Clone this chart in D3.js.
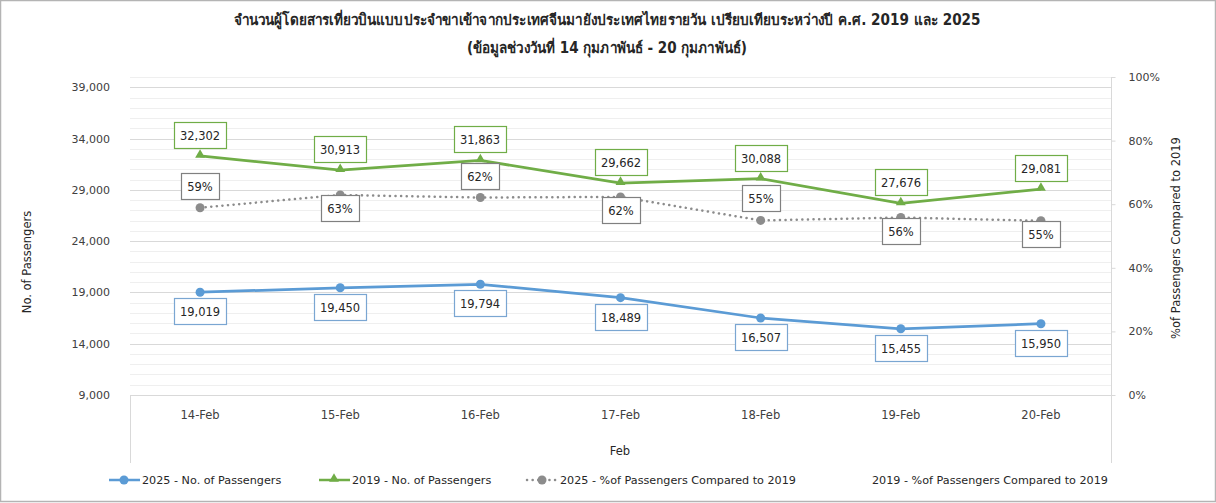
<!DOCTYPE html>
<html>
<head>
<meta charset="utf-8">
<script src="https://cdn.jsdelivr.net/npm/d3@7"></script>
<style>
body { margin: 0; background: #fff; }
svg { display: block; }
text { font-family: "DejaVu Sans", Tahoma, sans-serif; fill: #262626; }
</style>
</head>
<body>
<script>
var days = ["14-Feb", "15-Feb", "16-Feb", "17-Feb", "18-Feb", "19-Feb", "20-Feb"];
var pax2025 = [19019, 19450, 19794, 18489, 16507, 15455, 15950];
var pax2019 = [32302, 30913, 31863, 29662, 30088, 27676, 29081];
var pct2025 = [0.589, 0.629, 0.621, 0.623, 0.549, 0.558, 0.548];
var pctLabelSide = ["up", "down", "up", "down", "up", "down", "down"];
var leftTicks = [9000, 14000, 19000, 24000, 29000, 34000, 39000];
var rightTicks = [0, 0.2, 0.4, 0.6, 0.8, 1];
var titleLines = ["จำนวนผู้โดยสารเที่ยวบินแบบประจำขาเข้าจากประเทศจีนมายังประเทศไทยรายวัน  เปรียบเทียบระหว่างปี ค.ศ. 2019 และ 2025",
                  "(ข้อมูลช่วงวันที่ 14 กุมภาพันธ์ - 20 กุมภาพันธ์)"];
var legendNames = ["2025 - No. of Passengers", "2019 - No. of Passengers",
                   "2025 - %of Passengers Compared to 2019", "2019 - %of Passengers Compared to 2019"];

var width = 1216, height = 503;
var plotLeft = 130, plotRight = 1111, plotTop = 77, plotBottom = 395;
var blue = "#5b9bd5", green = "#70ad47", gray = "#8c8c8c";

var svg = d3.select("body").append("svg")
    .attr("width", width)
    .attr("height", height);

// frame round the picture
svg.append("rect")
    .attr("x", 0.5).attr("y", 0.5)
    .attr("width", width - 1).attr("height", height - 2)
    .attr("fill", "none").attr("stroke", "#b4b4b4").attr("stroke-width", 1.5);

var xScale = d3.scaleBand().domain(days).range([plotLeft, plotRight]);
var yScale = d3.scaleLinear().domain([9000, 40000]).range([plotBottom, plotTop]);
var pScale = d3.scaleLinear().domain([0, 1]).range([plotBottom, plotTop]);
function cx(d, i) { return xScale(days[i]) + xScale.bandwidth() / 2; }

// titles
var titleWidths = [747, 280];
svg.selectAll("text.title").data(titleLines).enter().append("text")
    .attr("class", "title")
    .attr("x", 607).attr("y", function(d, i) { return 25 + i * 28; })
    .attr("text-anchor", "middle")
    .attr("textLength", function(d, i) { return titleWidths[i]; })
    .attr("lengthAdjust", "spacingAndGlyphs")
    .style("font-size", "15px").style("font-weight", "bold")
    .text(function(d) { return d; });

// gridlines, minor every 1000, major at the ticks
var minor = d3.range(9000, 40001, 1000);
svg.append("g").selectAll("line").data(minor).enter().append("line")
    .attr("x1", plotLeft).attr("x2", plotRight)
    .attr("y1", function(d) { return Math.round(yScale(d)) + 0.5; })
    .attr("y2", function(d) { return Math.round(yScale(d)) + 0.5; })
    .attr("stroke", function(d) { return leftTicks.indexOf(d) >= 0 ? "#d9d9d9" : "#efefef"; });

// frame lines under the plot
svg.append("line").attr("x1", plotLeft).attr("x2", plotRight).attr("y1", plotBottom + 0.5).attr("y2", plotBottom + 0.5).attr("stroke", "#d9d9d9");
svg.append("line").attr("x1", plotLeft + 0.5).attr("x2", plotLeft + 0.5).attr("y1", plotBottom).attr("y2", 463).attr("stroke", "#d9d9d9");
svg.append("line").attr("x1", plotRight + 0.5).attr("x2", plotRight + 0.5).attr("y1", plotTop).attr("y2", 463).attr("stroke", "#d9d9d9");

// left axis
var yAxis = d3.axisLeft(yScale).tickValues(leftTicks).tickSize(0).tickPadding(20).tickFormat(d3.format(","));
var gy = svg.append("g").attr("transform", "translate(" + plotLeft + ",0)").call(yAxis);
gy.select(".domain").remove();
gy.selectAll("text").style("font-size", "11px").style("fill", "#404040").style("font-family", "DejaVu Sans");

// right axis
var pAxis = d3.axisRight(pScale).tickValues(rightTicks).tickSize(4).tickPadding(13).tickFormat(d3.format(".0%"));
var gp = svg.append("g").attr("transform", "translate(" + (plotRight + 0.5) + ",0)").call(pAxis);
gp.select(".domain").remove();
gp.selectAll("line").attr("stroke", "#d9d9d9");
gp.selectAll("text").style("font-size", "11px").style("fill", "#404040").style("font-family", "DejaVu Sans");

// category axis
var xAxis = d3.axisBottom(xScale).tickSize(0).tickPadding(16);
var gx = svg.append("g").attr("transform", "translate(0," + plotBottom + ")").call(xAxis);
gx.select(".domain").remove();
gx.selectAll("text").style("font-size", "11.5px").style("fill", "#404040").style("font-family", "DejaVu Sans");

// axis titles
svg.append("text").attr("x", 620).attr("y", 455).attr("text-anchor", "middle")
    .style("font-size", "11.5px").text("Feb");
svg.append("text").attr("transform", "translate(31,262) rotate(-90)").attr("text-anchor", "middle")
    .style("font-size", "11.5px").text("No. of Passengers");
svg.append("text").attr("transform", "translate(1180,238) rotate(-90)").attr("text-anchor", "middle")
    .style("font-size", "11.5px").text("%of Passengers Compared to 2019");

// lines
var paxLine = d3.line().x(cx).y(function(d) { return yScale(d); });
var pctLine = d3.line().x(cx).y(function(d) { return pScale(d); });

svg.append("path").attr("d", pctLine(pct2025))
    .attr("fill", "none").attr("stroke", gray).attr("stroke-width", 2.5)
    .attr("stroke-linecap", "round").attr("stroke-dasharray", "0.1 5.5");
svg.append("path").attr("d", paxLine(pax2019))
    .attr("fill", "none").attr("stroke", green).attr("stroke-width", 2.75);
svg.append("path").attr("d", paxLine(pax2025))
    .attr("fill", "none").attr("stroke", blue).attr("stroke-width", 2.75);

// markers
svg.append("g").selectAll("circle").data(pct2025).enter().append("circle")
    .attr("cx", cx).attr("cy", function(d) { return pScale(d); })
    .attr("r", 4.5).attr("fill", gray);
svg.append("g").selectAll("circle").data(pax2025).enter().append("circle")
    .attr("cx", cx).attr("cy", function(d) { return yScale(d); })
    .attr("r", 4.5).attr("fill", blue);
var tri = d3.symbol().type(d3.symbolTriangle).size(42);
svg.append("g").selectAll("path").data(pax2019).enter().append("path")
    .attr("d", tri)
    .attr("transform", function(d, i) { return "translate(" + cx(d, i) + "," + (yScale(d) - 1) + ")"; })
    .attr("fill", green);

// data labels in boxes
function labels(values, yOf, fmt, colour, offsetOf) {
    var g = svg.append("g").selectAll("g").data(values).enter().append("g")
        .attr("transform", function(d, i) { return "translate(" + Math.round(cx(d, i)) + "," + Math.round(yOf(d) + offsetOf(d, i)) + ")"; });
    g.append("text")
        .attr("text-anchor", "middle").attr("dy", "0.35em")
        .style("font-size", "11.5px").style("fill", "#262626")
        .text(fmt);
    g.each(function() {
        var t = d3.select(this).select("text").node().getBBox();
        d3.select(this).insert("rect", "text")
            .attr("x", Math.round(t.x - 6) + 0.5).attr("y", -13.5)
            .attr("width", Math.round(t.width + 12)).attr("height", 26)
            .attr("fill", "#fff").attr("stroke", colour).attr("stroke-width", 1.2);
    });
}

labels(pax2019, yScale, d3.format(","), green, function() { return -20; });
labels(pax2025, yScale, d3.format(","), "#7aa6d2", function() { return 20; });
labels(pct2025, pScale, d3.format(".0%"), "#808080", function(d, i) { return pctLabelSide[i] == "up" ? -21 : 14; });

// legend
var legend = svg.append("g").attr("transform", "translate(0,480)");
var legendX = [109, 319, 527, 839];
var legendKind = ["circle", "triangle", "dots", "none"];
var legendColour = [blue, green, gray, "none"];
legendNames.forEach(function(name, i) {
    var x = legendX[i], kind = legendKind[i];
    if (kind != "none") {
        legend.append("line").attr("x1", x).attr("x2", x + 31).attr("y1", 0).attr("y2", 0)
            .attr("stroke", legendColour[i]).attr("stroke-width", 2.5)
            .attr("stroke-linecap", kind == "dots" ? "round" : "butt")
            .attr("stroke-dasharray", kind == "dots" ? "0.1 5.5" : null);
        if (kind == "triangle") {
            legend.append("path").attr("d", tri).attr("transform", "translate(" + (x + 15) + ",-1)").attr("fill", legendColour[i]);
        } else {
            legend.append("circle").attr("cx", x + 15).attr("cy", 0).attr("r", 4.5).attr("fill", legendColour[i]);
        }
    }
    legend.append("text").attr("x", x + 33).attr("y", 0).attr("dy", "0.35em")
        .style("font-size", "11.2px").text(name);
});
</script>
</body>
</html>
